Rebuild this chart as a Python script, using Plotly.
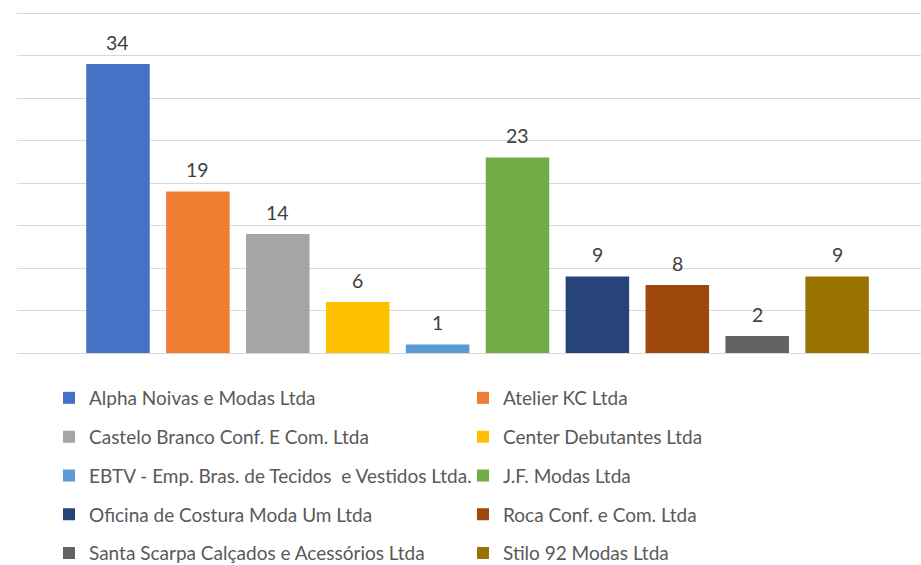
import plotly.graph_objects as go

companies = [
    "Alpha Noivas e Modas Ltda",
    "Atelier KC Ltda",
    "Castelo Branco Conf. E Com. Ltda",
    "Center Debutantes Ltda",
    "EBTV - Emp. Bras. de Tecidos  e Vestidos Ltda.",
    "J.F. Modas Ltda",
    "Oficina de Costura Moda Um Ltda",
    "Roca Conf. e Com. Ltda",
    "Santa Scarpa Calçados e Acessórios Ltda",
    "Stilo 92 Modas Ltda",
]
values = [34, 19, 14, 6, 1, 23, 9, 8, 2, 9]
colors = ["#4472C4", "#ED7D31", "#A5A5A5", "#FFC000", "#5B9BD5",
          "#70AD47", "#264478", "#9E480E", "#636363", "#997300"]
y_max = 40
y_step = 5

FONT = "Lato"
W, H = 921, 565
ML, MT, MB = 17, 11, 212
plot_w = W - ML
plot_h = H - MT - MB
# leave 2px above the top gridline so plotly keeps drawing it
y_top = y_max * plot_h / (plot_h - 2)

fig = go.Figure()
layout_legends = {}
for i, (name, val, col) in enumerate(zip(companies, values, colors)):
    lg = "legend" if i == 0 else f"legend{i+1}"
    fig.add_trace(go.Bar(
        x=[i], y=[val], name=name, marker=dict(color=col, line=dict(width=0)),
        width=0.795, legend=lg, hoverinfo="name+y",
    ))
    row, colidx = divmod(i, 2)
    text_x_px = 89 if colidx == 0 else 503
    row_y_px = 398 + row * 38.8
    layout_legends[lg] = dict(
        x=(text_x_px - 40 - ML) / plot_w,
        xanchor="left",
        y=-(row_y_px - (MT + plot_h)) / plot_h,
        yanchor="middle",
        orientation="h",
        bgcolor="rgba(0,0,0,0)",
        font=dict(family=FONT, size=19, color="#595959"),
    )
    fig.add_annotation(
        x=i, y=val, text=str(val), showarrow=False, yanchor="middle",
        yshift=22, font=dict(family=FONT, size=19.5, color="#404040"),
    )

fig.update_layout(
    width=W, height=H,
    margin=dict(l=ML, r=0, t=MT, b=MB, pad=0, autoexpand=False),
    plot_bgcolor="white", paper_bgcolor="white",
    barmode="overlay",
    showlegend=True,
    xaxis=dict(range=[-1.264, 10.05], showticklabels=False, showgrid=False,
               zeroline=False, fixedrange=True),
    yaxis=dict(range=[0, y_top], dtick=y_step, showticklabels=False, showgrid=True,
               gridcolor="#D9D9D9", gridwidth=1, zeroline=True,
               zerolinecolor="#D9D9D9", zerolinewidth=1, fixedrange=True),
    **layout_legends,
)

fig.write_html(
    "out.html",
    config={"displayModeBar": False},
    post_script="document.body.style.margin='0';document.body.style.overflow='hidden';",
)
